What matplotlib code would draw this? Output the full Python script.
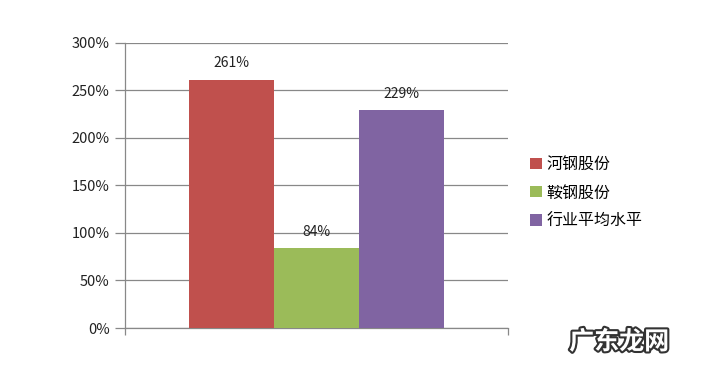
import matplotlib.pyplot as plt
import matplotlib.patheffects as pe

plt.rcParams['font.family'] = ['Noto Sans CJK SC', 'DejaVu Sans']

categories = ["河钢股份", "鞍钢股份", "行业平均水平"]
values = [261, 84, 229]
colors = ["#C0504D", "#9BBB59", "#8064A2"]
yticks = [0, 50, 100, 150, 200, 250, 300]

fig = plt.figure(figsize=(7.06, 3.70), dpi=100)
ax = fig.add_axes([0.177, 0.1135, 0.543, 0.7705])

positions = [-1, 0, 1]
bars = ax.bar(positions, values, width=1.0, color=colors, label=categories, zorder=3)
for x, v in zip(positions, values):
    ax.text(x, v + 10, f"{v}%", ha="center", va="bottom", fontsize=10, color="#222222")

ax.set_xlim(-2.25, 2.25)
ax.set_ylim(0, 300)
ax.set_yticks(yticks)
ax.set_yticklabels([f"{t}%" for t in yticks], fontsize=10.5, color="#222222")
ax.yaxis.grid(True, color="#888888", linewidth=0.9, zorder=0)
ax.tick_params(axis="y", length=7, color="#888888", width=0.9, pad=4)
ax.set_xticks([-2.25, 2.25])
ax.set_xticklabels(["", ""])
ax.tick_params(axis="x", length=5, color="#888888", width=0.9, direction="out")
for s in ["top", "right"]:
    ax.spines[s].set_visible(False)
for s in ["left", "bottom"]:
    ax.spines[s].set_color("#888888")
    ax.spines[s].set_linewidth(0.9)

ax.legend(bars, categories, loc="center left", bbox_to_anchor=(1.02, 0.474),
          frameon=False, fontsize=11.5, handlelength=0.7, handleheight=0.7,
          handletextpad=0.3, labelspacing=0.7)

fig.text(0.877, 0.075, "广东龙网", fontsize=18, fontweight="bold", color="white",
         ha="center", va="center",
         path_effects=[pe.withStroke(linewidth=3, foreground="#333333")])

fig.savefig("out.png", dpi=100)
